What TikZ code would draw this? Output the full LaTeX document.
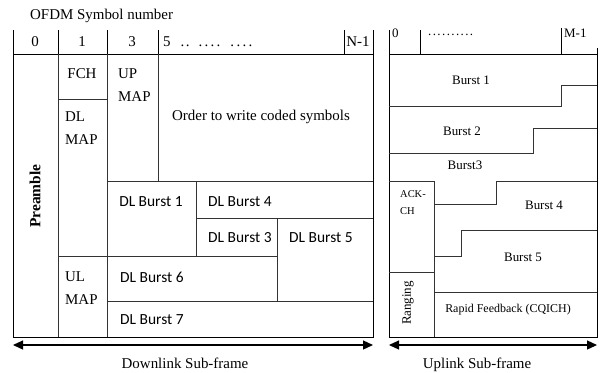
\documentclass[tikz,border=0pt]{standalone}
\usepackage{fontspec}
\setmainfont{Liberation Serif}
\newfontfamily\sansb{Carlito}
\usetikzlibrary{arrows.meta}
\begin{document}
\begin{tikzpicture}[x=1bp,y=-1bp,
  outer/.style={line width=1bp, black},
  inner/.style={line width=0.9bp, black!80},
  tm/.style={font=\fontsize{15}{17}\selectfont, inner sep=0},
  tmb/.style={font=\bfseries\fontsize{15.5}{17}\selectfont, inner sep=0},
  cb/.style={font=\sansb\fontsize{15.5}{17}\selectfont, inner sep=0},
  sm/.style={font=\fontsize{13}{15}\selectfont, inner sep=0},
  xs/.style={font=\fontsize{10.5}{12}\selectfont, inner sep=0},
  span/.style={line width=1.2bp, {Triangle[length=10bp,width=9bp]}-{Triangle[length=10bp,width=9bp]}}]
\useasboundingbox (0,0) rectangle (601,372);
% ---------- Downlink sub-frame ----------
\draw[outer] (13,30)--(13,54) (58,30)--(58,54) (107,30)--(107,54) (158,30)--(158,54) (344,30)--(344,54) (373,30)--(373,54);
\draw[outer] (13,54)--(373,54);
\draw[outer] (13,54) rectangle (373,337);
\draw[inner] (58,54)--(58,337) (107,54)--(107,337) (158,54)--(158,181);
\draw[inner] (58,99)--(107,99);
\draw[inner] (107,181)--(373,181);
\draw[inner] (196,181)--(196,256);
\draw[inner] (196,218)--(373,218);
\draw[inner] (277,218)--(277,301);
\draw[inner] (58,256)--(277,256);
\draw[inner] (107,301)--(373,301);
\node[tm, anchor=west] (ofdm) at (30,16) {OFDM Symbol number};
\node[tm] (h0) at (35,42) {0};
\node[tm] (h1) at (82,42) {1};
\node[tm] (h3) at (132,42) {3};
\node[tm, anchor=west] (h5) at (163,42) {5\hspace{10bp}.\hspace{1.5bp}.\hspace{9bp}.\hspace{2.3bp}.\hspace{2.3bp}.\hspace{2.3bp}.\hspace{10bp}.\hspace{2.3bp}.\hspace{2.3bp}.\hspace{2.3bp}.};
\node[tm] (hn) at (358,42) {N-1};
\node[tm] (fch) at (82,74) {FCH};
\node[tm, anchor=west] (dl1) at (65,117) {DL};
\node[tm, anchor=west] (dl2) at (65,140) {MAP};
\node[tm, anchor=west] (up1) at (118,74) {UP};
\node[tm, anchor=west] (up2) at (118,97) {MAP};
\node[tm, anchor=west] (order) at (172,117) {Order to write coded symbols};
\node[tmb, rotate=90] (pre) at (35,196) {Preamble};
\node[cb] (b1) at (151,202) {DL Burst 1};
\node[cb, anchor=west] (b4) at (208,202) {DL Burst 4};
\node[cb, anchor=west] (b3) at (208,238) {DL Burst 3};
\node[cb, anchor=west] (b5) at (289,238) {DL Burst 5};
\node[tm, anchor=west] (ul1) at (65,277) {UL};
\node[tm, anchor=west] (ul2) at (65,300) {MAP};
\node[cb, anchor=west] (b6) at (120,277) {DL Burst 6};
\node[cb, anchor=west] (b7) at (120,320) {DL Burst 7};
\coordinate (dla) at (13,345);
\coordinate (dlb) at (373,345);
\draw[span] (dla) -- (dlb);
\node[tm] (dlsub) at (185,363) {Downlink Sub-frame};
% ---------- Uplink sub-frame ----------
\draw[outer] (389,30)--(389,54) (420,30)--(420,54) (561,28)--(561,54) (597,48)--(597,54);
\draw[outer] (389,54)--(597,54);
\draw[outer] (389,54) rectangle (597,337);
\draw[inner] (389,106)--(561,106)--(561,85)--(597,85);
\draw[inner] (389,153)--(533,153)--(533,128)--(597,128);
\draw[inner] (389,181)--(434,181) (434,181)--(434,337);
\draw[inner] (434,204)--(496,204)--(496,181)--(597,181);
\draw[inner] (434,256)--(461,256)--(461,230)--(597,230);
\draw[inner] (389,272)--(434,272);
\draw[inner] (434,292)--(597,292);
\node[sm, anchor=west] (u0) at (392,33) {0};
\node[sm, anchor=west] (ud) at (428,35) {.\hspace{1.4bp}.\hspace{1.4bp}.\hspace{1.4bp}.\hspace{1.4bp}.\hspace{1.4bp}.\hspace{1.4bp}.\hspace{1.4bp}.\hspace{1.4bp}.\hspace{1.4bp}.};
\node[sm, anchor=west] (um) at (564,33) {M-1};
\node[sm] (ub1) at (471,80) {Burst 1};
\node[sm] (ub2) at (462,131) {Burst 2};
\node[sm] (ub3) at (465,165) {Burst3};
\node[xs, anchor=west] (ack1) at (400,194) {ACK-};
\node[xs, anchor=west] (ack2) at (400,211) {CH};
\node[sm] (ub4) at (544,205) {Burst 4};
\node[sm] (ub5) at (523,257) {Burst 5};
\node[font=\fontsize{12}{14}\selectfont, inner sep=0] (rf) at (508,310) {Rapid Feedback (CQICH)};
\node[sm, rotate=90] (rng) at (408,303) {Ranging};
\coordinate (ula) at (389,345);
\coordinate (ulb) at (597,345);
\draw[span] (ula) -- (ulb);
\node[tm] (ulsub) at (477,365) {Uplink Sub-frame};
\end{tikzpicture}
\end{document}
